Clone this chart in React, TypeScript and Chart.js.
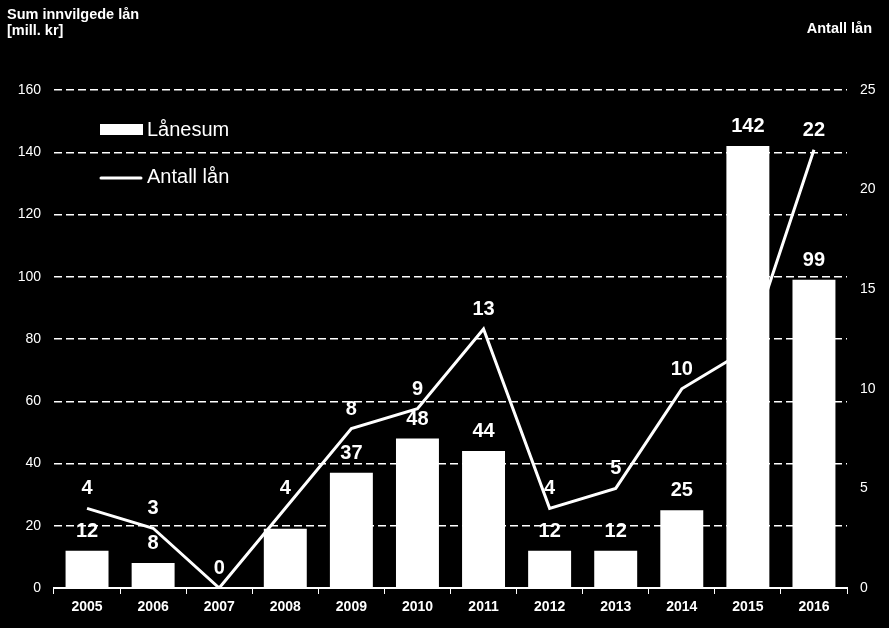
import React, { useEffect, useRef } from "react";
import { Chart, registerables } from "chart.js";

Chart.register(...registerables);

const years = ["2005", "2006", "2007", "2008", "2009", "2010", "2011", "2012", "2013", "2014", "2015", "2016"];
const loanSum = [12, 8, 0, 19, 37, 48, 44, 12, 12, 25, 142, 99];
const loanCount = [4, 3, 0, 4, 8, 9, 13, 4, 5, 10, 12, 22];
const hiddenBarLabels = ["2007", "2008"];
const hiddenLineLabels = ["2015"];
const leftTitle = ["Sum innvilgede lån", "[mill. kr]"];
const rightTitle = "Antall lån";
const legendBar = "Lånesum";
const legendLine = "Antall lån";

const FONT = "'Liberation Sans', Arial, sans-serif";

const overlayPlugin = {
  id: "overlay",
  beforeDraw(chart: any) {
    const ctx = chart.ctx;
    ctx.save();
    ctx.fillStyle = "#000";
    ctx.fillRect(0, 0, chart.width, chart.height);
    ctx.restore();
  },
  afterDatasetsDraw(chart: any) {
    const ctx = chart.ctx;
    const area = chart.chartArea;
    ctx.save();
    ctx.fillStyle = "#fff";
    ctx.textAlign = "center";
    ctx.textBaseline = "alphabetic";
    ctx.font = `bold 20px ${FONT}`;
    const barMeta = chart.getDatasetMeta(0);
    barMeta.data.forEach((el: any, i: number) => {
      if (hiddenBarLabels.includes(years[i])) return;
      ctx.fillText(String(loanSum[i]), el.x, el.y - 14);
    });
    const lineMeta = chart.getDatasetMeta(1);
    lineMeta.data.forEach((el: any, i: number) => {
      if (hiddenLineLabels.includes(years[i])) return;
      ctx.fillText(String(loanCount[i]), el.x, el.y - 14);
    });

    // titles
    ctx.font = `bold 14.5px ${FONT}`;
    ctx.textAlign = "left";
    ctx.fillText(leftTitle[0], 7, 19);
    ctx.fillText(leftTitle[1], 7, 35);
    ctx.textAlign = "right";
    ctx.fillText(rightTitle, 872, 33);

    // legend
    const lx = area.left + 46;
    ctx.fillRect(lx, area.top + 34, 43, 11);
    ctx.font = `20px ${FONT}`;
    ctx.textAlign = "left";
    ctx.fillText(legendBar, lx + 47, area.top + 46);
    ctx.strokeStyle = "#fff";
    ctx.lineWidth = 3;
    ctx.lineCap = "round";
    ctx.beginPath();
    ctx.moveTo(lx + 1, area.top + 88);
    ctx.lineTo(lx + 41, area.top + 88);
    ctx.stroke();
    ctx.fillText(legendLine, lx + 47, area.top + 93);
    ctx.restore();
  },
};

export default function App() {
  const canvasRef = useRef<HTMLCanvasElement | null>(null);

  useEffect(() => {
    document.body.style.margin = "0";
    document.body.style.background = "#000";
    const canvas = canvasRef.current;
    if (!canvas) return;
    const chart = new Chart(canvas, {
      type: "bar",
      data: {
        labels: years,
        datasets: [
          {
            type: "bar",
            label: legendBar,
            data: loanSum,
            backgroundColor: "#fff",
            borderWidth: 0,
            barPercentage: 0.65,
            categoryPercentage: 1,
            yAxisID: "y",
            order: 1,
          },
          {
            type: "line",
            label: legendLine,
            data: loanCount,
            borderColor: "#fff",
            borderWidth: 3,
            pointRadius: 0,
            tension: 0,
            fill: false,
            yAxisID: "y1",
            order: 2,
          },
        ] as any,
      },
      options: {
        responsive: false,
        animation: false,
        devicePixelRatio: 1,
        layout: { padding: { top: 90, left: 0, right: 0, bottom: 0 } },
        plugins: {
          legend: { display: false },
          tooltip: { enabled: false },
        },
        scales: {
          x: {
            offset: true,
            grid: {
              display: true,
              drawOnChartArea: false,
              drawTicks: true,
              tickLength: 6,
              color: "#fff",
              lineWidth: 1,
              offset: true,
            },
            border: { display: true, color: "#fff", width: 2 },
            ticks: {
              color: "#fff",
              font: { family: FONT, size: 14, weight: "bold" },
              padding: 5,
              maxRotation: 0,
            },
            afterFit: (s: any) => {
              s.height = 40;
            },
          },
          y: {
            position: "left",
            min: 0,
            max: 160,
            ticks: {
              stepSize: 20,
              color: "#fff",
              font: { family: FONT, size: 14 },
              padding: 13,
            },
            grid: {
              drawTicks: false,
              color: (c: any) => (c.tick && c.tick.value === 0 ? "rgba(0,0,0,0)" : "#fff"),
              lineWidth: 1.5,
            },
            border: { display: false, dash: [8, 4] },
            afterFit: (s: any) => {
              s.width = 54;
            },
          },
          y1: {
            position: "right",
            min: 0,
            max: 25,
            ticks: {
              stepSize: 5,
              color: "#fff",
              font: { family: FONT, size: 14 },
              padding: 13,
            },
            grid: { display: false, drawTicks: false, drawOnChartArea: false },
            border: { display: false },
            afterFit: (s: any) => {
              s.width = 42;
            },
          },
        },
      } as any,
      plugins: [overlayPlugin],
    });
    return () => chart.destroy();
  }, []);

  return (
    <div style={{ position: "absolute", left: 0, top: 0, width: 889, height: 628, background: "#000" }}>
      <canvas ref={canvasRef} width={889} height={628} style={{ display: "block", width: 889, height: 628 }} />
    </div>
  );
}
